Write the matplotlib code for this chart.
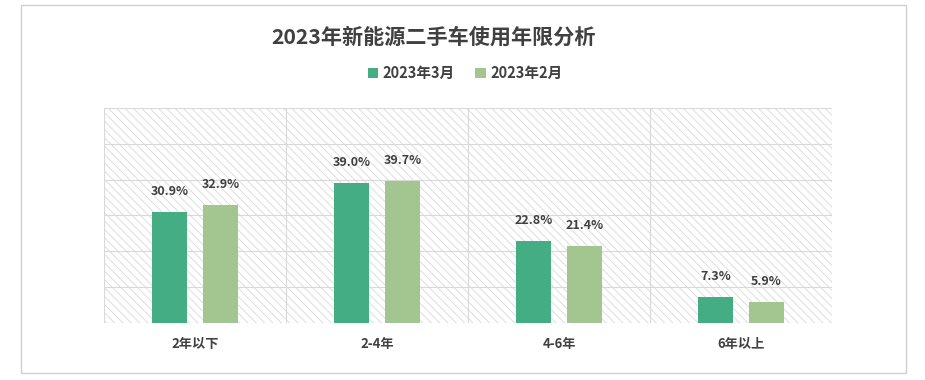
import numpy as np
import matplotlib.pyplot as plt
from matplotlib.patches import Rectangle

plt.rcParams['font.family'] = ['Noto Sans CJK SC', 'DejaVu Sans']
plt.rcParams['hatch.color'] = '#d9d9d9'
plt.rcParams['hatch.linewidth'] = 0.6

categories = ['2年以下', '2-4年', '4-6年', '6年以上']
mar_2023 = [30.9, 39.0, 22.8, 7.3]
feb_2023 = [32.9, 39.7, 21.4, 5.9]
series_names = ['2023年3月', '2023年2月']
colors = ['#45ad83', '#a3c58f']
text_color = '#404040'
grid_color = '#d9d9d9'

fig = plt.figure(figsize=(9.25, 3.8), dpi=100)
ax = fig.add_axes([0.1124, 0.15, 0.7871, 0.5658])

# hatched plot background
ax.add_patch(Rectangle((0, 0), 1, 1, transform=ax.transAxes, facecolor='white',
                       edgecolor=grid_color, hatch='\\\\\\\\', linewidth=0, zorder=0))

x = np.arange(len(categories))
w = 0.19
off = 0.14
b1 = ax.bar(x - off, mar_2023, w, color=colors[0], label=series_names[0], zorder=3)
b2 = ax.bar(x + off, feb_2023, w, color=colors[1], label=series_names[1], zorder=3)

for bars, vals in [(b1, mar_2023), (b2, feb_2023)]:
    for rect, v in zip(bars, vals):
        ax.annotate(f'{v:.1f}%', (rect.get_x() + rect.get_width() / 2, v),
                    xytext=(0, 10), textcoords='offset points', ha='center', va='bottom',
                    fontsize=9, fontweight='bold', color=text_color)

ax.set_xlim(-0.5, len(categories) - 0.5)
ax.set_ylim(0, 60)
ax.set_yticks(np.arange(0, 61, 10))
ax.set_xticks(x)
ax.set_xticklabels(categories, fontsize=9.5, fontweight='bold', color=text_color)
ax.tick_params(axis='x', length=0, pad=10)
ax.tick_params(axis='y', length=0, labelleft=False)
ax.grid(axis='y', color=grid_color, linewidth=0.8, zorder=1)
for xb in np.arange(-0.5, len(categories), 1.0):
    ax.axvline(xb, color=grid_color, linewidth=0.8, zorder=1)
for s in ax.spines.values():
    s.set_visible(False)
ax.set_axisbelow(True)

fig.text(0.469, 0.903, '2023年新能源二手车使用年限分析', ha='center', va='center',
         fontsize=15.2, fontweight='bold', color=text_color)
fig.legend(loc='center', bbox_to_anchor=(0.503, 0.808), ncol=2, frameon=False,
           prop={'size': 10.5, 'weight': 'bold'}, handlelength=0.7, handleheight=0.7,
           handletextpad=0.3, columnspacing=1.4, labelcolor=text_color)

# outer frame
fig.add_artist(Rectangle((21 / 925, 1 - 373 / 380), 885 / 925, 368 / 380,
                         transform=fig.transFigure, fill=False, edgecolor='#d0d0d0', linewidth=1))

fig.savefig('out.png', dpi=100, facecolor='white')
